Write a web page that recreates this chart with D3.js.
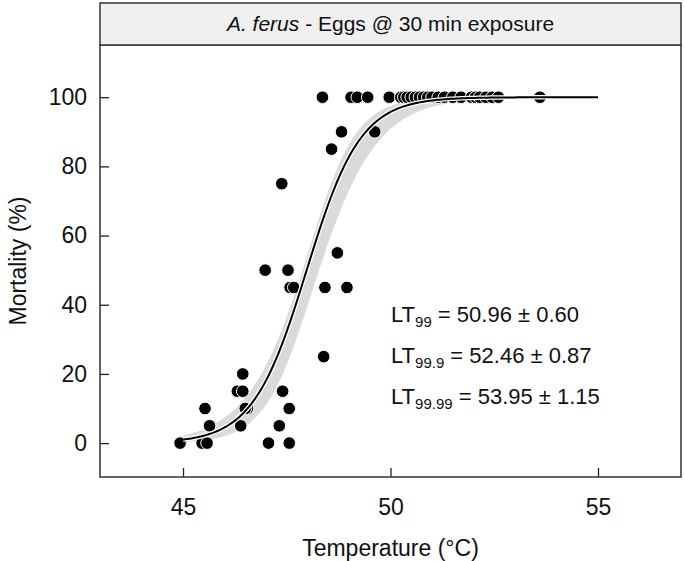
<!DOCTYPE html>
<meta charset="utf-8">
<head>
  <script src="https://d3js.org/d3.v7.min.js"></script>
  <style>
    body { margin: 0; background: #fff; }
    svg { display: block; font-family: "Liberation Sans", Arial, sans-serif; }
  </style>
</head>
<body>
<div id="my_dataviz"></div>
<script>

var temps = [44.93, 45.46, 45.58, 45.64, 45.53, 46.39, 46.55, 46.50, 46.44, 46.31, 46.44,
             47.06, 47.56, 47.32, 47.56, 47.40, 48.39, 46.98, 47.53, 47.58, 47.67, 48.42,
             48.95, 48.72, 47.38, 48.58, 48.82, 49.62,
             48.36, 49.05, 49.20, 49.45, 49.97, 50.25, 50.32, 50.40, 50.50, 50.60, 50.70,
             50.80, 50.90, 51.00, 51.15, 51.30, 51.50, 51.70, 51.95, 52.05, 52.15, 52.30,
             52.45, 52.60, 53.60];
var mortality = [0, 0, 0, 5, 10, 5, 10, 10, 20, 15, 15,
                 0, 0, 5, 10, 15, 25, 50, 50, 45, 45, 45,
                 45, 55, 75, 85, 90, 90,
                 100, 100, 100, 100, 100, 100, 100, 100, 100, 100, 100,
                 100, 100, 100, 100, 100, 100, 100, 100, 100, 100, 100,
                 100, 100, 100];

// logistic fit (from the LT values printed on the chart) and its confidence band on the logit scale
var lt50 = 47.98, scale = 0.649;
var bandShift = 0.15, bandBase = 0.3, bandGrow = 0.3, bandCentre = 48;
var fitRange = [45, 55];

var xTicks = [45, 50, 55];
var yTicks = [0, 20, 40, 60, 80, 100];
var ltLabels = [
  {sub: "99", text: " = 50.96 \u00b1 0.60"},
  {sub: "99.9", text: " = 52.46 \u00b1 0.87"},
  {sub: "99.99", text: " = 53.95 \u00b1 1.15"}
];

var W = 685, H = 561;
var margin = {left: 100, right: 681, top: 45, bottom: 477, strip: 3};

var svg = d3.select("#my_dataviz").append("svg")
  .attr("width", W).attr("height", H);

var x = d3.scaleLinear().domain([43, 57]).range([margin.left, margin.right]);
var y = d3.scaleLinear().domain([-9.8, 115.1]).range([margin.bottom, margin.top]);

function eta(t) { return (t - lt50) / scale; }
function pct(e) { return 100 / (1 + Math.exp(-e)); }
function halfWidth(t) { return Math.sqrt(bandBase * bandBase + Math.pow(bandGrow * (t - bandCentre), 2)); }

var grid = d3.range(fitRange[0], fitRange[1] + 0.001, 0.05);

// confidence band
var band = d3.area()
  .x(function(t) { return x(t); })
  .y0(function(t) { return y(pct(eta(t) - bandShift - halfWidth(t))); })
  .y1(function(t) { return y(pct(eta(t) - bandShift + halfWidth(t))); });
svg.append("path").datum(grid)
  .attr("d", band).attr("fill", "#dadada");

// points
svg.selectAll("circle.pt")
  .data(temps)
  .enter().append("circle")
    .attr("class", "pt")
    .attr("cx", function(d) { return x(d); })
    .attr("cy", function(d, i) { return y(mortality[i]); })
    .attr("r", 6.3)
    .attr("fill", "#000")
    .attr("stroke", "#fff")
    .attr("stroke-width", 1);

// fitted line
var line = d3.line()
  .x(function(t) { return x(t); })
  .y(function(t) { return y(pct(eta(t))); });
svg.append("path").datum(grid).attr("d", line)
  .attr("fill", "none").attr("stroke", "#fff").attr("stroke-width", 4.5);
svg.append("path").datum(grid).attr("d", line)
  .attr("fill", "none").attr("stroke", "#000").attr("stroke-width", 2);

// axes (ticks inward)
svg.append("g")
  .attr("transform", "translate(0," + margin.bottom + ")")
  .call(d3.axisBottom(x).tickValues(xTicks).tickSizeInner(-9).tickSizeOuter(0).tickPadding(22))
  .call(function(g) {
    g.select(".domain").remove();
    g.selectAll("line").attr("stroke", "#222").attr("stroke-width", 1.3);
    g.selectAll("text").attr("font-size", 23).attr("font-family", "Liberation Sans, Arial").attr("fill", "#111");
  });

svg.append("g")
  .attr("transform", "translate(" + margin.left + ",0)")
  .call(d3.axisLeft(y).tickValues(yTicks).tickSizeInner(-9).tickSizeOuter(0).tickPadding(13))
  .call(function(g) {
    g.select(".domain").remove();
    g.selectAll("line").attr("stroke", "#222").attr("stroke-width", 1.3);
    g.selectAll("text").attr("font-size", 23).attr("font-family", "Liberation Sans, Arial").attr("fill", "#111");
  });

// panel frame
svg.append("rect")
  .attr("x", margin.left).attr("y", margin.top)
  .attr("width", margin.right - margin.left).attr("height", margin.bottom - margin.top)
  .attr("fill", "none").attr("stroke", "#333").attr("stroke-width", 1.5);

// title strip
svg.append("rect")
  .attr("x", margin.left).attr("y", margin.strip)
  .attr("width", margin.right - margin.left).attr("height", margin.top - margin.strip)
  .attr("fill", "#f0f0f0").attr("stroke", "#333").attr("stroke-width", 1.5);
var title = svg.append("text")
  .attr("x", (margin.left + margin.right) / 2).attr("y", 31)
  .attr("text-anchor", "middle").attr("font-size", 21).attr("fill", "#111");
title.append("tspan").attr("font-style", "italic").text("A. ferus");
title.append("tspan").text(" - Eggs @ 30 min exposure");

// axis titles
svg.append("text")
  .attr("x", (margin.left + margin.right) / 2).attr("y", 556)
  .attr("text-anchor", "middle").attr("font-size", 23).attr("fill", "#111")
  .text("Temperature (\u00b0C)");
svg.append("text")
  .attr("transform", "translate(26," + ((margin.top + margin.bottom) / 2) + ") rotate(-90)")
  .attr("text-anchor", "middle").attr("font-size", 23).attr("fill", "#111")
  .text("Mortality (%)");

// LT annotations
var ann = svg.selectAll("text.lt")
  .data(ltLabels)
  .enter().append("text")
    .attr("class", "lt")
    .attr("x", 391)
    .attr("y", function(d, i) { return 322 + i * 41; })
    .attr("font-size", 22).attr("fill", "#111");
ann.append("tspan").text("LT");
ann.append("tspan").attr("font-size", 15).attr("dy", 5).text(function(d) { return d.sub; });
ann.append("tspan").attr("dy", -5).text(function(d) { return d.text; });

</script>
</body>
